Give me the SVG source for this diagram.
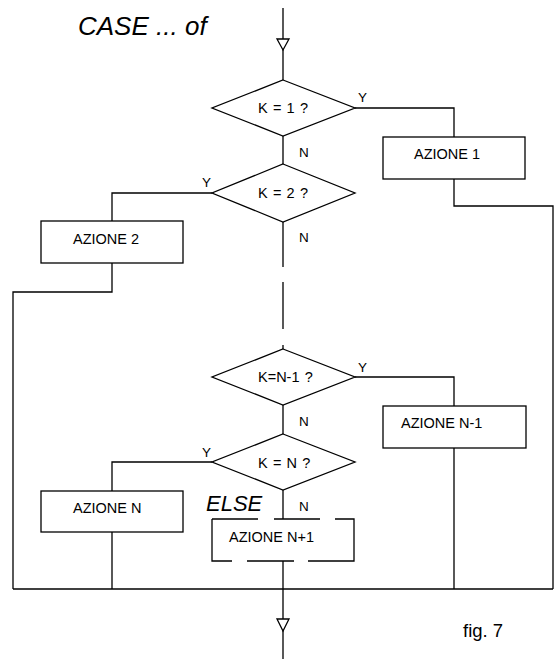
<svg xmlns="http://www.w3.org/2000/svg" width="554" height="659" viewBox="0 0 554 659">
<style>
.ln{fill:none;stroke:#000;stroke-width:1.3}
.sh{fill:#fff;stroke:#000;stroke-width:1.3}
.t{font-family:"Liberation Sans",Arial,sans-serif;fill:#000}
.d{font-size:14.5px;word-spacing:1.2px}
.b{font-size:14.5px}
.l{font-size:13.5px}
.it{font-style:italic;font-size:26px}
</style>
<rect width="554" height="659" fill="#fff"/>
<g id="connectors">
<path class="ln" d="M283,8V80M283,136V164M283,222V267M283,282V329M283,345V349M283,405V434M283,490V519M283,561V659"/>
<path class="ln" d="M355,108H454V137M454,179V206H553V589"/>
<path class="ln" d="M212,193H112V221M112,263V292H13V589"/>
<path class="ln" d="M355,377H454V406M454,448V589"/>
<path class="ln" d="M212,462H112V491M112,532V589"/>
<path class="ln" d="M13,589H553"/>
<polygon class="sh" points="277,39 289,39 283,50"/>
<polygon class="sh" points="277,619 289,619 283,631"/>
</g>
<g id="title"><text class="t it" x="78" y="35">CASE ... of</text></g>
<g id="d1">
<polygon class="sh" points="283,80 355,108 283,136 212,108"/>
<text class="t d" x="258" y="113">K = 1 ?</text>
<text class="t l" x="358" y="102">Y</text>
<text class="t l" x="299" y="157">N</text>
</g>
<g id="a1">
<rect class="sh" x="383" y="137" width="142" height="42"/>
<text class="t b" x="414" y="159">AZIONE 1</text>
</g>
<g id="d2">
<polygon class="sh" points="283,164 355,193 283,222 212,193"/>
<text class="t d" x="258" y="198">K = 2 ?</text>
<text class="t l" x="202" y="187">Y</text>
<text class="t l" x="299" y="242">N</text>
</g>
<g id="a2">
<rect class="sh" x="41" y="221" width="142" height="42"/>
<text class="t b" x="73" y="244">AZIONE 2</text>
</g>
<g id="d3">
<polygon class="sh" points="283,349 355,377 283,405 212,377"/>
<text class="t d" x="258" y="382">K=N-1 ?</text>
<text class="t l" x="358" y="372">Y</text>
<text class="t l" x="299" y="426">N</text>
</g>
<g id="an1">
<rect class="sh" x="383" y="406" width="143" height="42"/>
<text class="t b" x="401" y="428">AZIONE N-1</text>
</g>
<g id="d4">
<polygon class="sh" points="283,434 355,462 283,490 212,462"/>
<text class="t d" x="258" y="468">K = N ?</text>
<text class="t l" x="202" y="457">Y</text>
<text class="t l" x="299" y="511">N</text>
</g>
<g id="an">
<rect class="sh" x="41" y="491" width="142" height="41"/>
<text class="t b" x="73" y="513">AZIONE N</text>
</g>
<g id="else">
<text class="t" x="206" y="511" style="font-style:italic;font-size:22px">ELSE</text>
<path class="ln" d="M212,519H258M274,519H320M335,519H354V561H308M294,561H247M232,561H212V519"/>
<text class="t b" x="229" y="542">AZIONE N+1</text>
</g>
<g id="caption"><text class="t" x="463" y="637" style="font-size:18.5px">fig. 7</text></g>
</svg>
